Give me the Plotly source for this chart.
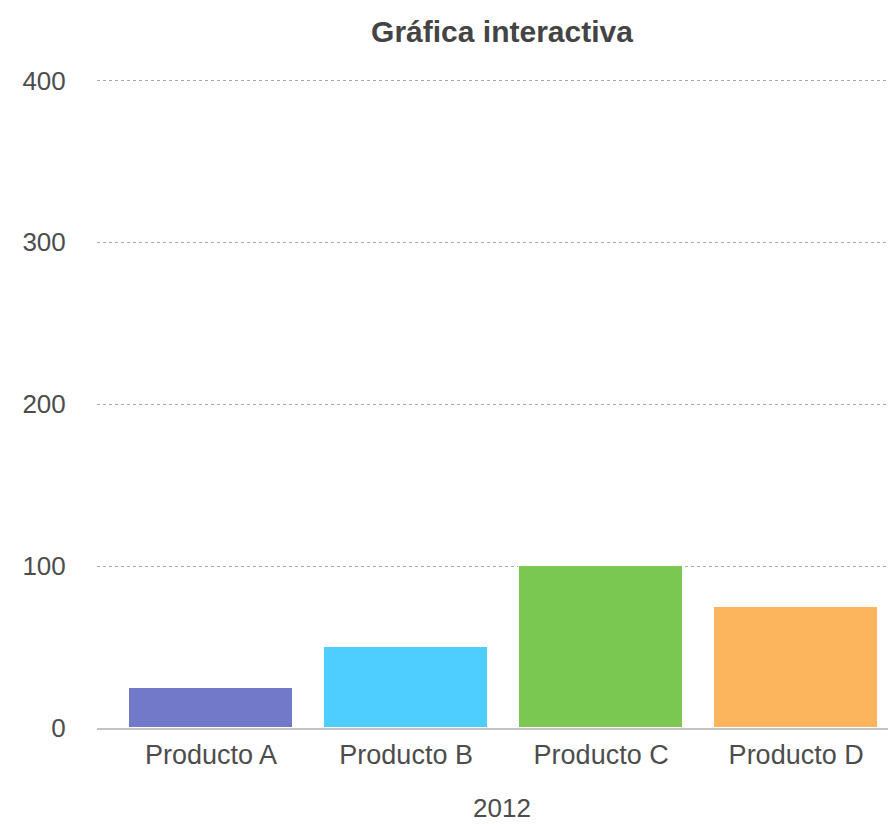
import plotly.graph_objects as go

categories = ["Producto A", "Producto B", "Producto C", "Producto D"]
values = [25, 50, 100, 75]
colors = ["#7279C9", "#4ECDFF", "#7AC851", "#FDB55D"]
y_ticks = [0, 100, 200, 300, 400]
title_text = "Gráfica interactiva"
x_title = "2012"

W, H = 888, 824
L, R, T, B = 97, 0, 73.5, 96

fig = go.Figure()
fig.add_trace(go.Bar(
    x=list(range(len(categories))),
    y=values,
    marker=dict(color=colors, line=dict(color="white", width=1)),
    width=0.84,
    hoverinfo="x+y",
))

fig.update_layout(
    width=W, height=H,
    margin=dict(l=L, r=R, t=T, b=B, autoexpand=False),
    paper_bgcolor="white", plot_bgcolor="white",
    font=dict(family="Liberation Sans, Arial, sans-serif", color="#4d4d4d", size=26),
    showlegend=False,
    bargap=0,
    title=dict(text=title_text, x=502 / W, xref="container", xanchor="center",
               y=1 - 31 / H, yref="container", yanchor="middle",
               font=dict(size=30, color="#444444", family="Liberation Sans, Arial, sans-serif", weight="bold")),
    xaxis=dict(
        range=[-0.585, 3.471],
        tickmode="array",
        tickvals=list(range(len(categories))),
        ticktext=categories,
        showgrid=False,
        zeroline=False,
        showline=True, linecolor="#C4C4C4", linewidth=2,
        ticks="outside", ticklen=2, tickcolor="rgba(0,0,0,0)",
        tickfont=dict(size=27, color="#4d4d4d"),
        fixedrange=True,
    ),
    yaxis=dict(
        range=[0, 404],
        tickmode="array",
        tickvals=y_ticks,
        ticktext=[str(v) for v in y_ticks],
        showgrid=True, gridcolor="#A8A8A8", gridwidth=1, griddash="dot",
        zeroline=False, showline=False,
        ticks="outside", ticklen=25, tickcolor="rgba(0,0,0,0)",
        tickfont=dict(size=26, color="#4d4d4d"),
        fixedrange=True,
    ),
    annotations=[dict(
        text=x_title, xref="paper", yref="paper",
        x=(502 - L) / (W - L - R), y=-(808 - 727.7) / (H - T - B),
        xanchor="center", yanchor="middle", showarrow=False,
        font=dict(size=26, color="#4d4d4d"),
    )],
)

fig.write_html(
    "out.html",
    config={"displayModeBar": False},
    post_script="document.body.style.margin='0';document.body.style.overflow='hidden';",
)
